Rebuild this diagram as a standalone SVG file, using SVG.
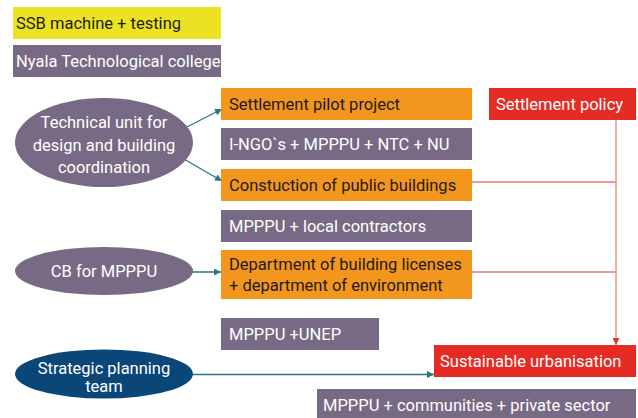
<svg xmlns="http://www.w3.org/2000/svg" width="638" height="418" viewBox="0 0 638 418">
<style>
text{font-family:Roboto,"Liberation Sans",Arial,sans-serif;font-size:16.5px}
.dk{fill:#1e1a16}
.wt{fill:#ffffff}
.yel{fill:#ebe321}
.pur{fill:#786a84}
.org{fill:#f3961e}
.red{fill:#e52b24}
.blu{fill:#0b4678}
.teal{stroke:#2b7680;stroke-width:1.3;fill:none}
.rl{stroke:#e5332a;stroke-width:1;fill:none}
.pl{stroke:#f09a9a;stroke-width:1.6;fill:none}
</style>
<defs>
<marker id="ah" viewBox="0 0 10 10" refX="10" refY="5" markerWidth="7" markerHeight="7" markerUnits="userSpaceOnUse" orient="auto"><path d="M0,0 L10,5 L0,10 z" fill="#2b7680"/></marker>
<marker id="ahr" viewBox="0 0 10 10" refX="10" refY="5" markerWidth="7" markerHeight="7" markerUnits="userSpaceOnUse" orient="auto"><path d="M0,0 L10,5 L0,10 z" fill="#e5332a"/></marker>
</defs>
<rect width="638" height="418" fill="#ffffff"/>
<g id="connectors">
<line class="teal" x1="187" y1="127" x2="222" y2="109" marker-end="url(#ah)"/>
<line class="teal" x1="182" y1="158" x2="222" y2="181" marker-end="url(#ah)"/>
<line class="teal" x1="182" y1="272" x2="221" y2="272" marker-end="url(#ah)"/>
<line class="teal" x1="192" y1="374.5" x2="434" y2="374.5" marker-end="url(#ah)"/>
<line class="rl" x1="450" y1="182" x2="616" y2="182"/>
<line class="rl" x1="447" y1="272" x2="616" y2="272"/>
<line class="pl" x1="616" y1="120" x2="616" y2="345" marker-end="url(#ahr)"/>
</g>
<g id="n-ssb"><rect class="yel" x="13" y="7" width="208" height="32"/><text class="dk" x="16" y="29">SSB machine + testing</text></g>
<g id="n-nyala"><rect class="pur" x="13" y="45" width="208" height="32"/><text class="wt" x="16" y="67">Nyala Technological college</text></g>
<g id="n-techunit"><ellipse class="pur" cx="104" cy="142.5" rx="89" ry="44.5"/><text class="wt" text-anchor="middle"><tspan x="104" y="128">Technical unit for</tspan><tspan x="104" y="151">design and building</tspan><tspan x="104" y="173">coordination</tspan></text></g>
<g id="n-cb"><ellipse class="pur" cx="104" cy="271" rx="89" ry="24"/><text class="wt" x="104" y="277" text-anchor="middle">CB for MPPPU</text></g>
<g id="n-strategic"><ellipse class="blu" cx="104" cy="374" rx="89" ry="24.5"/><text class="wt" text-anchor="middle"><tspan x="104" y="374">Strategic planning</tspan><tspan x="104" y="392">team</tspan></text></g>
<g id="n-pilot"><rect class="org" x="221" y="88" width="251" height="32"/><text class="dk" x="229" y="110">Settlement pilot project</text></g>
<g id="n-ingo"><rect class="pur" x="221" y="128" width="251" height="32"/><text class="wt" x="229" y="150">I-NGO`s + MPPPU + NTC + NU</text></g>
<g id="n-public"><rect class="org" x="221" y="169" width="251" height="32"/><text class="dk" x="229" y="191">Constuction of public buildings</text></g>
<g id="n-local"><rect class="pur" x="221" y="210" width="251" height="32"/><text class="wt" x="229" y="232">MPPPU + local contractors</text></g>
<g id="n-dept"><rect class="org" x="221" y="250" width="251" height="49"/><text class="dk"><tspan x="229" y="270">Department of building licenses</tspan><tspan x="229" y="291">+ department of environment</tspan></text></g>
<g id="n-unep"><rect class="pur" x="221" y="318" width="158" height="32"/><text class="wt" x="229" y="340">MPPPU +UNEP</text></g>
<g id="n-policy"><rect class="red" x="489" y="88" width="147" height="32"/><text class="wt" x="496" y="110">Settlement policy</text></g>
<g id="n-sustain"><rect class="red" x="434" y="345" width="202" height="32"/><text class="wt" x="440" y="367">Sustainable urbanisation</text></g>
<g id="n-communities"><rect class="pur" x="317" y="389" width="319" height="29"/><text class="wt" x="323" y="411">MPPPU + communities + private sector</text></g>
</svg>
